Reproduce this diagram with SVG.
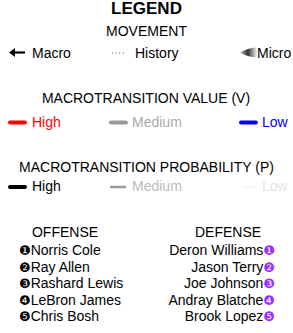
<svg xmlns="http://www.w3.org/2000/svg" width="293" height="333" viewBox="0 0 293 333">
<style>
text{font-family:"Liberation Sans",Arial,sans-serif;font-size:14px;fill:#000}
.t{text-anchor:middle}
.b{font-weight:bold;font-size:17px}
.num{font-family:"DejaVu Sans",sans-serif;font-size:13px}
.dnum{font-family:"DejaVu Sans",sans-serif;font-size:13px;fill:#9b30ff}
.ln{stroke-linecap:round;fill:none}
</style>
<defs>
<linearGradient id="mg" x1="0" y1="0" x2="1" y2="0">
<stop offset="0" stop-color="#bbb"/>
<stop offset="0.45" stop-color="#333"/>
<stop offset="1" stop-color="#fff"/>
</linearGradient>
</defs>
<text class="t b" x="146.5" y="14">LEGEND</text>
<text class="t" x="146.5" y="36">MOVEMENT</text>
<g id="movement">
<path d="M25,52.5 H12" stroke="#000" stroke-width="2.2" fill="none"/>
<path d="M9,52.5 L15,48 L15,57 Z" fill="#000"/>
<text x="32" y="58">Macro</text>
<path d="M112,53 H125" stroke="#555" stroke-width="1" stroke-dasharray="1,2.6"/>
<text x="135" y="58">History</text>
<path d="M240,52.5 Q248,48 256,47.5 Q259,52.5 256,57.5 Q248,57 240,52.5 Z" fill="url(#mg)"/>
<text x="257" y="58">Micro</text>
</g>
<text class="t" x="146" y="103">MACROTRANSITION VALUE (V)</text>
<g id="value">
<path class="ln" d="M10,122.5 H25" stroke="#f00" stroke-width="4"/>
<text x="32" y="127" style="fill:#f00">High</text>
<path class="ln" d="M111,122.5 H126" stroke="#999" stroke-width="4"/>
<text x="132" y="127" style="fill:#aaa">Medium</text>
<path class="ln" d="M241,122.5 H256" stroke="#00f" stroke-width="4"/>
<text x="262" y="127" style="fill:#00f">Low</text>
</g>
<text class="t" x="146.5" y="172">MACROTRANSITION PROBABILITY (P)</text>
<g id="probability">
<path class="ln" d="M10,187 H25" stroke="#000" stroke-width="4"/>
<text x="32" y="191">High</text>
<path class="ln" d="M111,187 H125" stroke="#999" stroke-width="2.5"/>
<text x="132" y="191" style="fill:#bbb">Medium</text>
<path class="ln" d="M243,187 H255" stroke="#eee" stroke-width="1.2"/>
<text x="262" y="191" style="fill:#e4e4e4">Low</text>
</g>
<g id="offense">
<text class="t" x="65" y="237">OFFENSE</text>
<text x="19" y="255"><tspan class="num">❶</tspan>Norris Cole</text>
<text x="19" y="271.5"><tspan class="num">❷</tspan>Ray Allen</text>
<text x="19" y="288"><tspan class="num">❸</tspan>Rashard Lewis</text>
<text x="19" y="304.5"><tspan class="num">❹</tspan>LeBron James</text>
<text x="19" y="321"><tspan class="num">❺</tspan>Chris Bosh</text>
</g>
<g id="defense">
<text class="t" x="228" y="237">DEFENSE</text>
<text x="275" y="255" text-anchor="end">Deron Williams<tspan class="dnum">❶</tspan></text>
<text x="275" y="271.5" text-anchor="end">Jason Terry<tspan class="dnum">❷</tspan></text>
<text x="275" y="288" text-anchor="end">Joe Johnson<tspan class="dnum">❸</tspan></text>
<text x="275" y="304.5" text-anchor="end">Andray Blatche<tspan class="dnum">❹</tspan></text>
<text x="275" y="321" text-anchor="end">Brook Lopez<tspan class="dnum">❺</tspan></text>
</g>
</svg>
